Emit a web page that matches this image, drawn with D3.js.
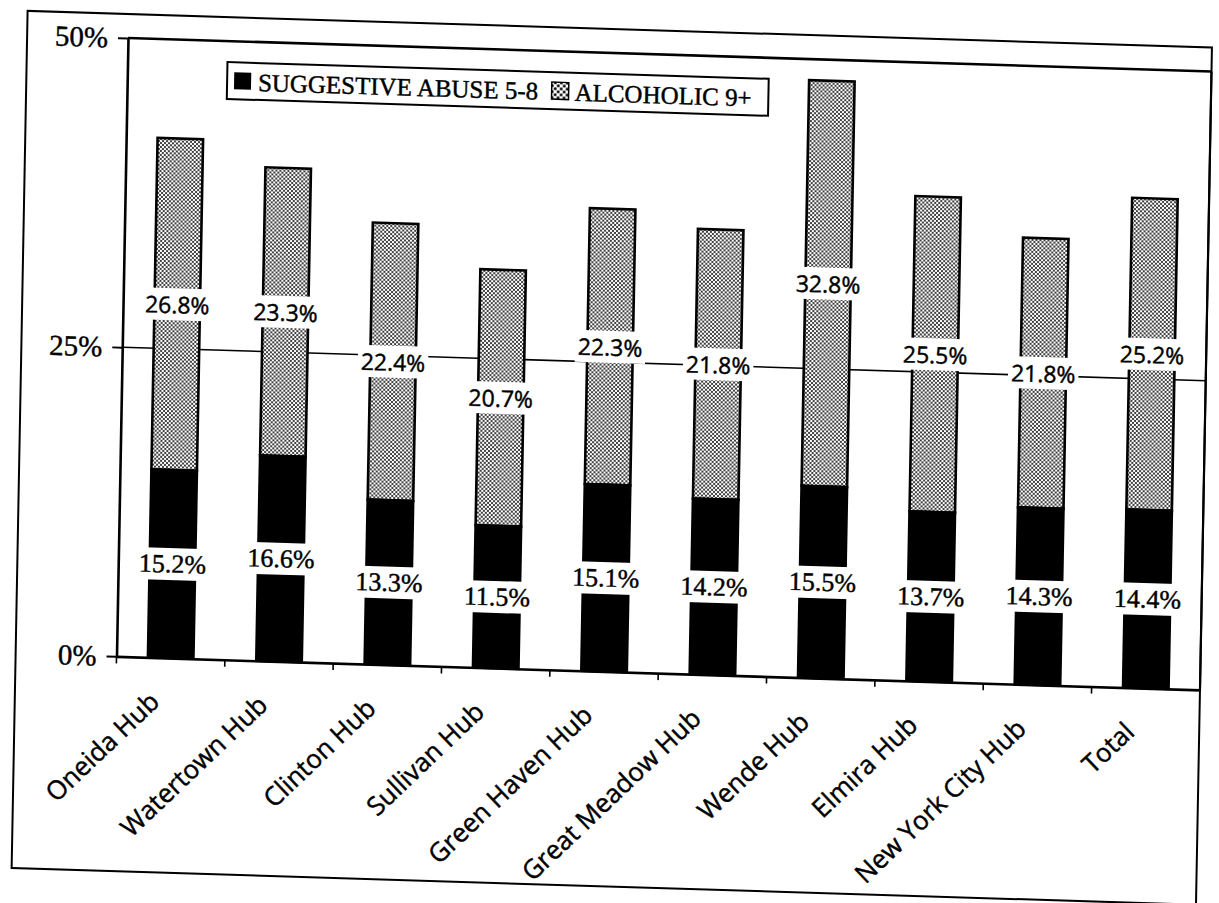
<!DOCTYPE html>
<html><head><meta charset="utf-8">
<script src="https://cdn.jsdelivr.net/npm/d3@7"></script>
<style>body{margin:0;background:#fff} text{stroke:#000;stroke-width:0.45px}</style>
</head><body>
<svg id="chart" width="1219" height="903"></svg>
<script>
const categories = ["Oneida Hub","Watertown Hub","Clinton Hub","Sullivan Hub","Green Haven Hub","Great Meadow Hub","Wende Hub","Elmira Hub","New York City Hub","Total"];
const suggestive = [15.2,16.6,13.3,11.5,15.1,14.2,15.5,13.7,14.3,14.4];
const alcoholic = [26.8,23.3,22.4,20.7,22.3,21.8,32.8,25.5,21.8,25.2];
const yTicks = [0,25,50];
const seriesNames = ["SUGGESTIVE ABUSE 5-8","ALCOHOLIC 9+"];

const svg = d3.select("#chart");
svg.append("rect").attr("width",1219).attr("height",903).attr("fill","#fff");
const defs = svg.append("defs");
const pat = defs.append("pattern").attr("id","dots").attr("patternUnits","userSpaceOnUse").attr("width",4).attr("height",4);
pat.append("rect").attr("width",4).attr("height",4).attr("fill","#fff");
pat.append("circle").attr("cx",1).attr("cy",1).attr("r",1).attr("fill","#000");
pat.append("circle").attr("cx",3).attr("cy",3).attr("r",1).attr("fill","#000");
const pat2 = defs.append("pattern").attr("id","dotsBig").attr("patternUnits","userSpaceOnUse").attr("width",6).attr("height",6);
pat2.append("rect").attr("width",6).attr("height",6).attr("fill","#fff");
pat2.append("circle").attr("cx",1.5).attr("cy",1.5).attr("r",1.5).attr("fill","#000");
pat2.append("circle").attr("cx",4.5).attr("cy",4.5).attr("r",1.5).attr("fill","#000");

const g = svg.append("g").attr("transform","matrix(0.9986,0.0309,-0.0186,0.999,11.16,-18.6)");
const L=118,R=1203,T=53,B=672;

// outer frame
g.append("rect").attr("x",17).attr("y",29).attr("width",R-17).attr("height",858)
  .attr("fill","none").attr("stroke","#000").attr("stroke-width",2);

const x = d3.scaleBand().domain(categories).range([L,R]).paddingInner(0.58).paddingOuter(0.29);
const y = d3.scaleLinear().domain([0,50]).range([B,T]);

// gridline at 25%
g.append("line").attr("x1",L).attr("x2",R).attr("y1",y(25)).attr("y2",y(25))
  .attr("stroke","#000").attr("stroke-width",1.6);
// top and right border of plot
g.append("line").attr("x1",L).attr("x2",R).attr("y1",y(50)).attr("y2",y(50))
  .attr("stroke","#000").attr("stroke-width",2.6);
g.append("line").attr("x1",R).attr("x2",R).attr("y1",y(50)).attr("y2",y(0))
  .attr("stroke","#000").attr("stroke-width",2.2);

// bars
const bars = g.append("g");
categories.forEach((c,i)=>{
  const s = suggestive[i], a = alcoholic[i];
  bars.append("rect").attr("x",x(c)).attr("width",x.bandwidth())
    .attr("y",y(s+a)).attr("height",y(s)-y(s+a))
    .attr("fill","url(#dots)").attr("stroke","#000").attr("stroke-width",2.6);
  bars.append("rect").attr("x",x(c)).attr("width",x.bandwidth())
    .attr("y",y(s)).attr("height",y(0)-y(s))
    .attr("fill","#000").attr("stroke","#000").attr("stroke-width",2.6);
});

// value labels
const labels = g.append("g");
function addLabel(cx, cy, txt, family, size){
  const grp = labels.append("g");
  const t = grp.append("text").attr("x",cx).attr("y",cy).attr("text-anchor","middle")
    .attr("dominant-baseline","central").attr("font-family",family).attr("font-size",size)
    .attr("fill","#000").text(txt);
  const bb = t.node().getBBox();
  grp.insert("rect","text").attr("x",bb.x-3).attr("y",cy-16).attr("width",bb.width+6).attr("height",32).attr("fill","#fff");
}
categories.forEach((c,i)=>{
  const s = suggestive[i], a = alcoholic[i];
  const cx = x(c)+x.bandwidth()/2;
  addLabel(cx, y(s/2), s.toFixed(1)+"%", "'Liberation Serif', serif", 26);
  addLabel(cx, y(s+a/2), a.toFixed(1)+"%", "'Open Sans', sans-serif", 23);
});

// y axis
const yAxis = g.append("g").attr("transform",`translate(${L},0)`)
  .call(d3.axisLeft(y).tickValues(yTicks).tickFormat(d=>d+"%").tickSize(10).tickSizeOuter(0).tickPadding(10));
yAxis.select(".domain").attr("stroke","#000").attr("stroke-width",2.6);
yAxis.selectAll(".tick line").attr("stroke","#000").attr("stroke-width",2);
yAxis.selectAll(".tick text").attr("font-family","'Liberation Serif', serif").attr("font-size",29).attr("fill","#000");

// x axis
const xAxis = g.append("g").attr("transform",`translate(0,${B})`)
  .call(d3.axisBottom(x).tickSize(0).tickSizeOuter(0));
xAxis.select(".domain").attr("stroke","#000").attr("stroke-width",2.6);
xAxis.selectAll(".tick text")
  .attr("font-family","'Open Sans', sans-serif").attr("font-size",26).attr("fill","#000")
  .attr("text-anchor","end").attr("x",-9).attr("y",46).attr("dy",0)
  .attr("transform","rotate(-45,-9,46)");
// boundary tick marks
const bounds = d3.range(categories.length).map(i=>L + x.step()*i);
g.append("g").selectAll("line").data(bounds).join("line")
  .attr("x1",d=>d).attr("x2",d=>d).attr("y1",B).attr("y2",B+7)
  .attr("stroke","#000").attr("stroke-width",1.6);

// legend
const lg = g.append("g").attr("transform","translate(218,74)");
lg.append("rect").attr("width",542).attr("height",37).attr("fill","#fff").attr("stroke","#000").attr("stroke-width",2);
lg.append("rect").attr("x",7).attr("y",10).attr("width",17).attr("height",17).attr("fill","#000");
lg.append("text").attr("x",31).attr("y",28).attr("font-family","'Liberation Serif', serif").attr("font-size",25).attr("fill","#000").text(seriesNames[0]);
lg.append("rect").attr("x",325).attr("y",10).attr("width",17).attr("height",17).attr("fill","url(#dotsBig)").attr("stroke","#000").attr("stroke-width",1.5);
lg.append("text").attr("x",348).attr("y",28).attr("font-family","'Liberation Serif', serif").attr("font-size",25).attr("fill","#000").text(seriesNames[1]);
</script>
</body></html>
